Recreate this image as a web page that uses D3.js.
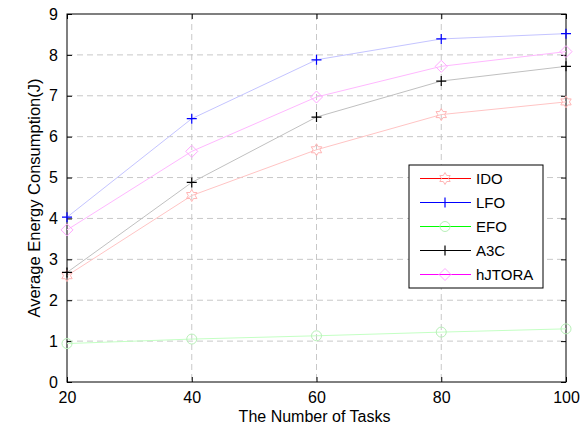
<!DOCTYPE html>
<html>
<head>
<meta charset="utf-8">
<script src="https://cdn.jsdelivr.net/npm/d3@7"></script>
<style>
  body { margin: 0; background: #fff; }
  text { font-family: "Liberation Sans", Arial, sans-serif; fill: #000; }
</style>
</head>
<body>
<svg id="chart" width="582" height="428"></svg>
<script>
// data
const tasks = [20, 40, 60, 80, 100];
const ido = [2.60, 4.56, 5.68, 6.54, 6.85];
const lfo = [4.03, 6.44, 7.88, 8.39, 8.52];
const efo = [0.94, 1.05, 1.13, 1.22, 1.30];
const a3c = [2.68, 4.88, 6.48, 7.36, 7.72];
const hjtora = [3.72, 5.64, 6.97, 7.72, 8.08];
const xTicks = [20, 40, 60, 80, 100];
const yTicks = [0, 1, 2, 3, 4, 5, 6, 7, 8, 9];

const series = [
  { name: "IDO", values: ido, line: "#ffc4c4", mark: "#ffb4b4", legend: "#ff0000", shape: "hex" },
  { name: "LFO", values: lfo, line: "#c4c4ff", mark: "#0000ff", legend: "#0000ff", shape: "plus" },
  { name: "EFO", values: efo, line: "#c4ffc4", mark: "#b8f0b8", legend: "#00ff00", shape: "circle" },
  { name: "A3C", values: a3c, line: "#c0c0c0", mark: "#000000", legend: "#000000", shape: "plus" },
  { name: "hJTORA", values: hjtora, line: "#ffb8ff", mark: "#ffa8ff", legend: "#ff00ff", shape: "diamond" }
];

const svg = d3.select("#chart");
const plotL = 67, plotR = 566, plotT = 14, plotB = 382;

const x = d3.scaleLinear().domain([20, 100]).range([plotL, plotR]);
const y = d3.scaleLinear().domain([0, 9]).range([plotB, plotT]);

// grid
const grid = svg.append("g").attr("stroke", "#c8c8c8").attr("stroke-dasharray", "6,4");
grid.selectAll(".gx").data(xTicks.slice(1, -1)).enter().append("line")
  .attr("x1", d => x(d)).attr("x2", d => x(d))
  .attr("y1", plotT).attr("y2", plotB);
grid.selectAll(".gy").data(yTicks.slice(1, -1)).enter().append("line")
  .attr("x1", plotL).attr("x2", plotR)
  .attr("y1", d => y(d)).attr("y2", d => y(d));

// axes (MATLAB style: inward ticks, box)
const axisFont = g => g.selectAll("text").style("font-size", "16px").style("font-family", "Liberation Sans, Arial, sans-serif");
svg.append("g").attr("transform", `translate(0,${plotB})`)
  .call(d3.axisBottom(x).tickValues(xTicks).tickSizeInner(-5).tickSizeOuter(0).tickPadding(10))
  .call(axisFont)
  .call(g => g.select(".domain").remove());
svg.append("g").attr("transform", `translate(${plotL},0)`)
  .call(d3.axisLeft(y).tickValues(yTicks).tickSizeInner(-5).tickSizeOuter(0).tickPadding(9))
  .call(axisFont)
  .call(g => g.select(".domain").remove());
svg.append("g").attr("transform", `translate(0,${plotT})`)
  .call(d3.axisTop(x).tickValues(xTicks).tickSizeInner(-5).tickSizeOuter(0).tickFormat(""))
  .call(g => g.select(".domain").remove());
svg.append("g").attr("transform", `translate(${plotR},0)`)
  .call(d3.axisRight(y).tickValues(yTicks).tickSizeInner(-5).tickSizeOuter(0).tickFormat(""))
  .call(g => g.select(".domain").remove());
svg.selectAll(".tick line").attr("stroke", "#000");

svg.append("rect")
  .attr("x", plotL).attr("y", plotT)
  .attr("width", plotR - plotL).attr("height", plotB - plotT)
  .attr("fill", "none").attr("stroke", "#000");

// markers
function hexPath(r) {
  const pts = [];
  for (let i = 0; i < 12; i++) {
    const a = Math.PI / 2 + i * Math.PI / 6;
    const rr = i % 2 === 0 ? r : r / Math.sqrt(3);
    pts.push([rr * Math.cos(a), -rr * Math.sin(a)]);
  }
  return "M" + pts.map(p => p.join(",")).join("L") + "Z";
}
function drawMarker(g, shape, color) {
  if (shape === "plus") {
    g.append("path").attr("d", "M-5,0H5M0,-5V5").attr("stroke", color).attr("stroke-width", 1.2).attr("fill", "none");
  } else if (shape === "circle") {
    g.append("circle").attr("r", 5).attr("stroke", color).attr("fill", "none");
  } else if (shape === "diamond") {
    g.append("path").attr("d", "M0,-6L6,0L0,6L-6,0Z").attr("stroke", color).attr("fill", "none");
  } else {
    g.append("path").attr("d", hexPath(6)).attr("stroke", color).attr("fill", "none");
  }
}

const line = d3.line().x(d => x(d[0])).y(d => y(d[1]));
const plot = svg.append("g");
series.forEach(s => {
  const pts = tasks.map((t, i) => [t, s.values[i]]);
  plot.append("path").datum(pts).attr("d", line)
    .attr("fill", "none").attr("stroke", s.line).attr("stroke-width", 1);
  pts.forEach(p => {
    const g = plot.append("g").attr("transform", `translate(${x(p[0])},${y(p[1])})`);
    drawMarker(g, s.shape, s.mark);
  });
});

// axis labels
svg.append("text")
  .attr("x", (plotL + plotR) / 2 - 2).attr("y", 422)
  .attr("text-anchor", "middle").style("font-size", "16px")
  .text("The Number of Tasks");
svg.append("text")
  .attr("transform", `translate(40,${(plotT + plotB) / 2}) rotate(-90)`)
  .attr("text-anchor", "middle").style("font-size", "16.5px")
  .text("Average Energy Consumption(J)");

// legend
const legend = svg.append("g").attr("transform", "translate(409,165)");
legend.append("rect").attr("width", 134).attr("height", 123)
  .attr("fill", "#fff").attr("stroke", "#000");
series.forEach((s, i) => {
  const row = legend.append("g").attr("transform", `translate(0,${13.5 + i * 24})`);
  row.append("line").attr("x1", 11).attr("x2", 62).attr("stroke", s.legend);
  drawMarker(row.append("g").attr("transform", "translate(36,0)"), s.shape, s.mark);
  row.append("text").attr("x", 67).attr("y", 5.5).style("font-size", "15px").text(s.name);
});
</script>
</body>
</html>
